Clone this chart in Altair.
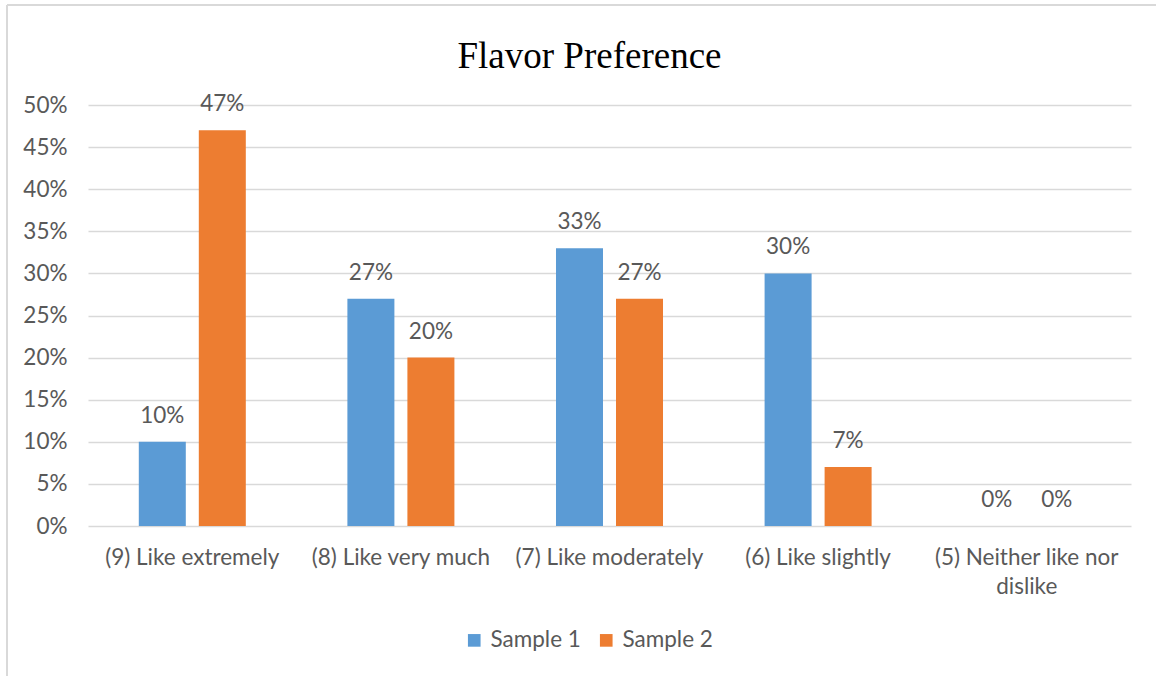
import altair as alt
import pandas as pd

categories = ["(9) Like extremely", "(8) Like very much", "(7) Like moderately",
              "(6) Like slightly", "(5) Neither like nor dislike"]
series = ["Sample 1", "Sample 2"]
sample1 = [0.10, 0.27, 0.33, 0.30, 0.00]
sample2 = [0.47, 0.20, 0.27, 0.07, 0.00]
colors = ["#5B9BD5", "#ED7D31"]
y_ticks = [0, 0.05, 0.10, 0.15, 0.20, 0.25, 0.30, 0.35, 0.40, 0.45, 0.50]

rows = []
for c, a, b in zip(categories, sample1, sample2):
    rows.append({"cat": c, "series": series[0], "value": a})
    rows.append({"cat": c, "series": series[1], "value": b})
df = pd.DataFrame(rows)

FONT = "Lato"
GREY = "#595959"
FS = 22.5

x_enc = alt.X(
    "cat:N", sort=categories,
    scale=alt.Scale(paddingInner=0.487, paddingOuter=0.2435),
    axis=alt.Axis(title=None, labelAngle=0, domain=False, ticks=False, tickSize=0,
                  labelPadding=20, labelFont=FONT, labelFontSize=FS, labelColor=GREY,
                  labelLineHeight=29, labelLimit=400, labelBaseline="top",
                  labelExpr="datum.label == '(5) Neither like nor dislike' ? ['(5) Neither like nor', 'dislike'] : datum.label"),
)
xo_enc = alt.XOffset("series:N", sort=series,
                     scale=alt.Scale(paddingInner=0.2167, paddingOuter=0))
y_enc = alt.Y(
    "value:Q", scale=alt.Scale(domain=[0, 0.5], nice=False),
    axis=alt.Axis(title=None, format=".0%", values=y_ticks, domain=False, ticks=False,
                  tickSize=0, labelPadding=21, labelFont=FONT, labelFontSize=FS,
                  labelColor=GREY, grid=True, gridColor="#d9d9d9", gridWidth=1.3),
)

bars = alt.Chart(df).mark_bar().encode(
    x=x_enc, xOffset=xo_enc, y=y_enc,
    color=alt.Color("series:N", sort=series,
                    scale=alt.Scale(domain=series, range=colors),
                    legend=alt.Legend(title=None, orient="none", legendX=375, legendY=524,
                                      direction="horizontal", symbolType="square",
                                      symbolSize=160, symbolStrokeWidth=0,
                                      labelFont=FONT, labelFontSize=FS, labelColor=GREY,
                                      columnPadding=14, labelOffset=5)),
)

labels = alt.Chart(df).mark_text(baseline="middle", dy=-26, font=FONT, fontSize=FS,
                                 color=GREY).encode(
    x=x_enc, xOffset=xo_enc, y=y_enc,
    text=alt.Text("value:Q", format=".0%"),
)

frame_df = pd.DataFrame({"k": [0]})
left_border = alt.Chart(frame_df).mark_rule(color="#d9d9d9", strokeWidth=2).encode(
    x=alt.value(-81), y=alt.value(-100), y2=alt.value(571))
top_border = alt.Chart(frame_df).mark_rule(color="#d9d9d9", strokeWidth=2).encode(
    x=alt.value(-81), x2=alt.value(1068), y=alt.value(-100))

chart = alt.layer(left_border, top_border, bars, labels).properties(
    width=1043, height=421,
    title=alt.Title("Flavor Preference", font="Liberation Serif", fontSize=37,
                    fontWeight="normal", color="black", anchor="middle",
                    frame="group", dx=-20, offset=-72),
    autosize=alt.AutoSizeParams(type="none"),
    padding={"left": 88, "top": 105, "right": 25, "bottom": 150},
    background="white",
).configure_view(stroke=None)

chart.save("out.html", embed_options={"renderer": "svg", "actions": False})
